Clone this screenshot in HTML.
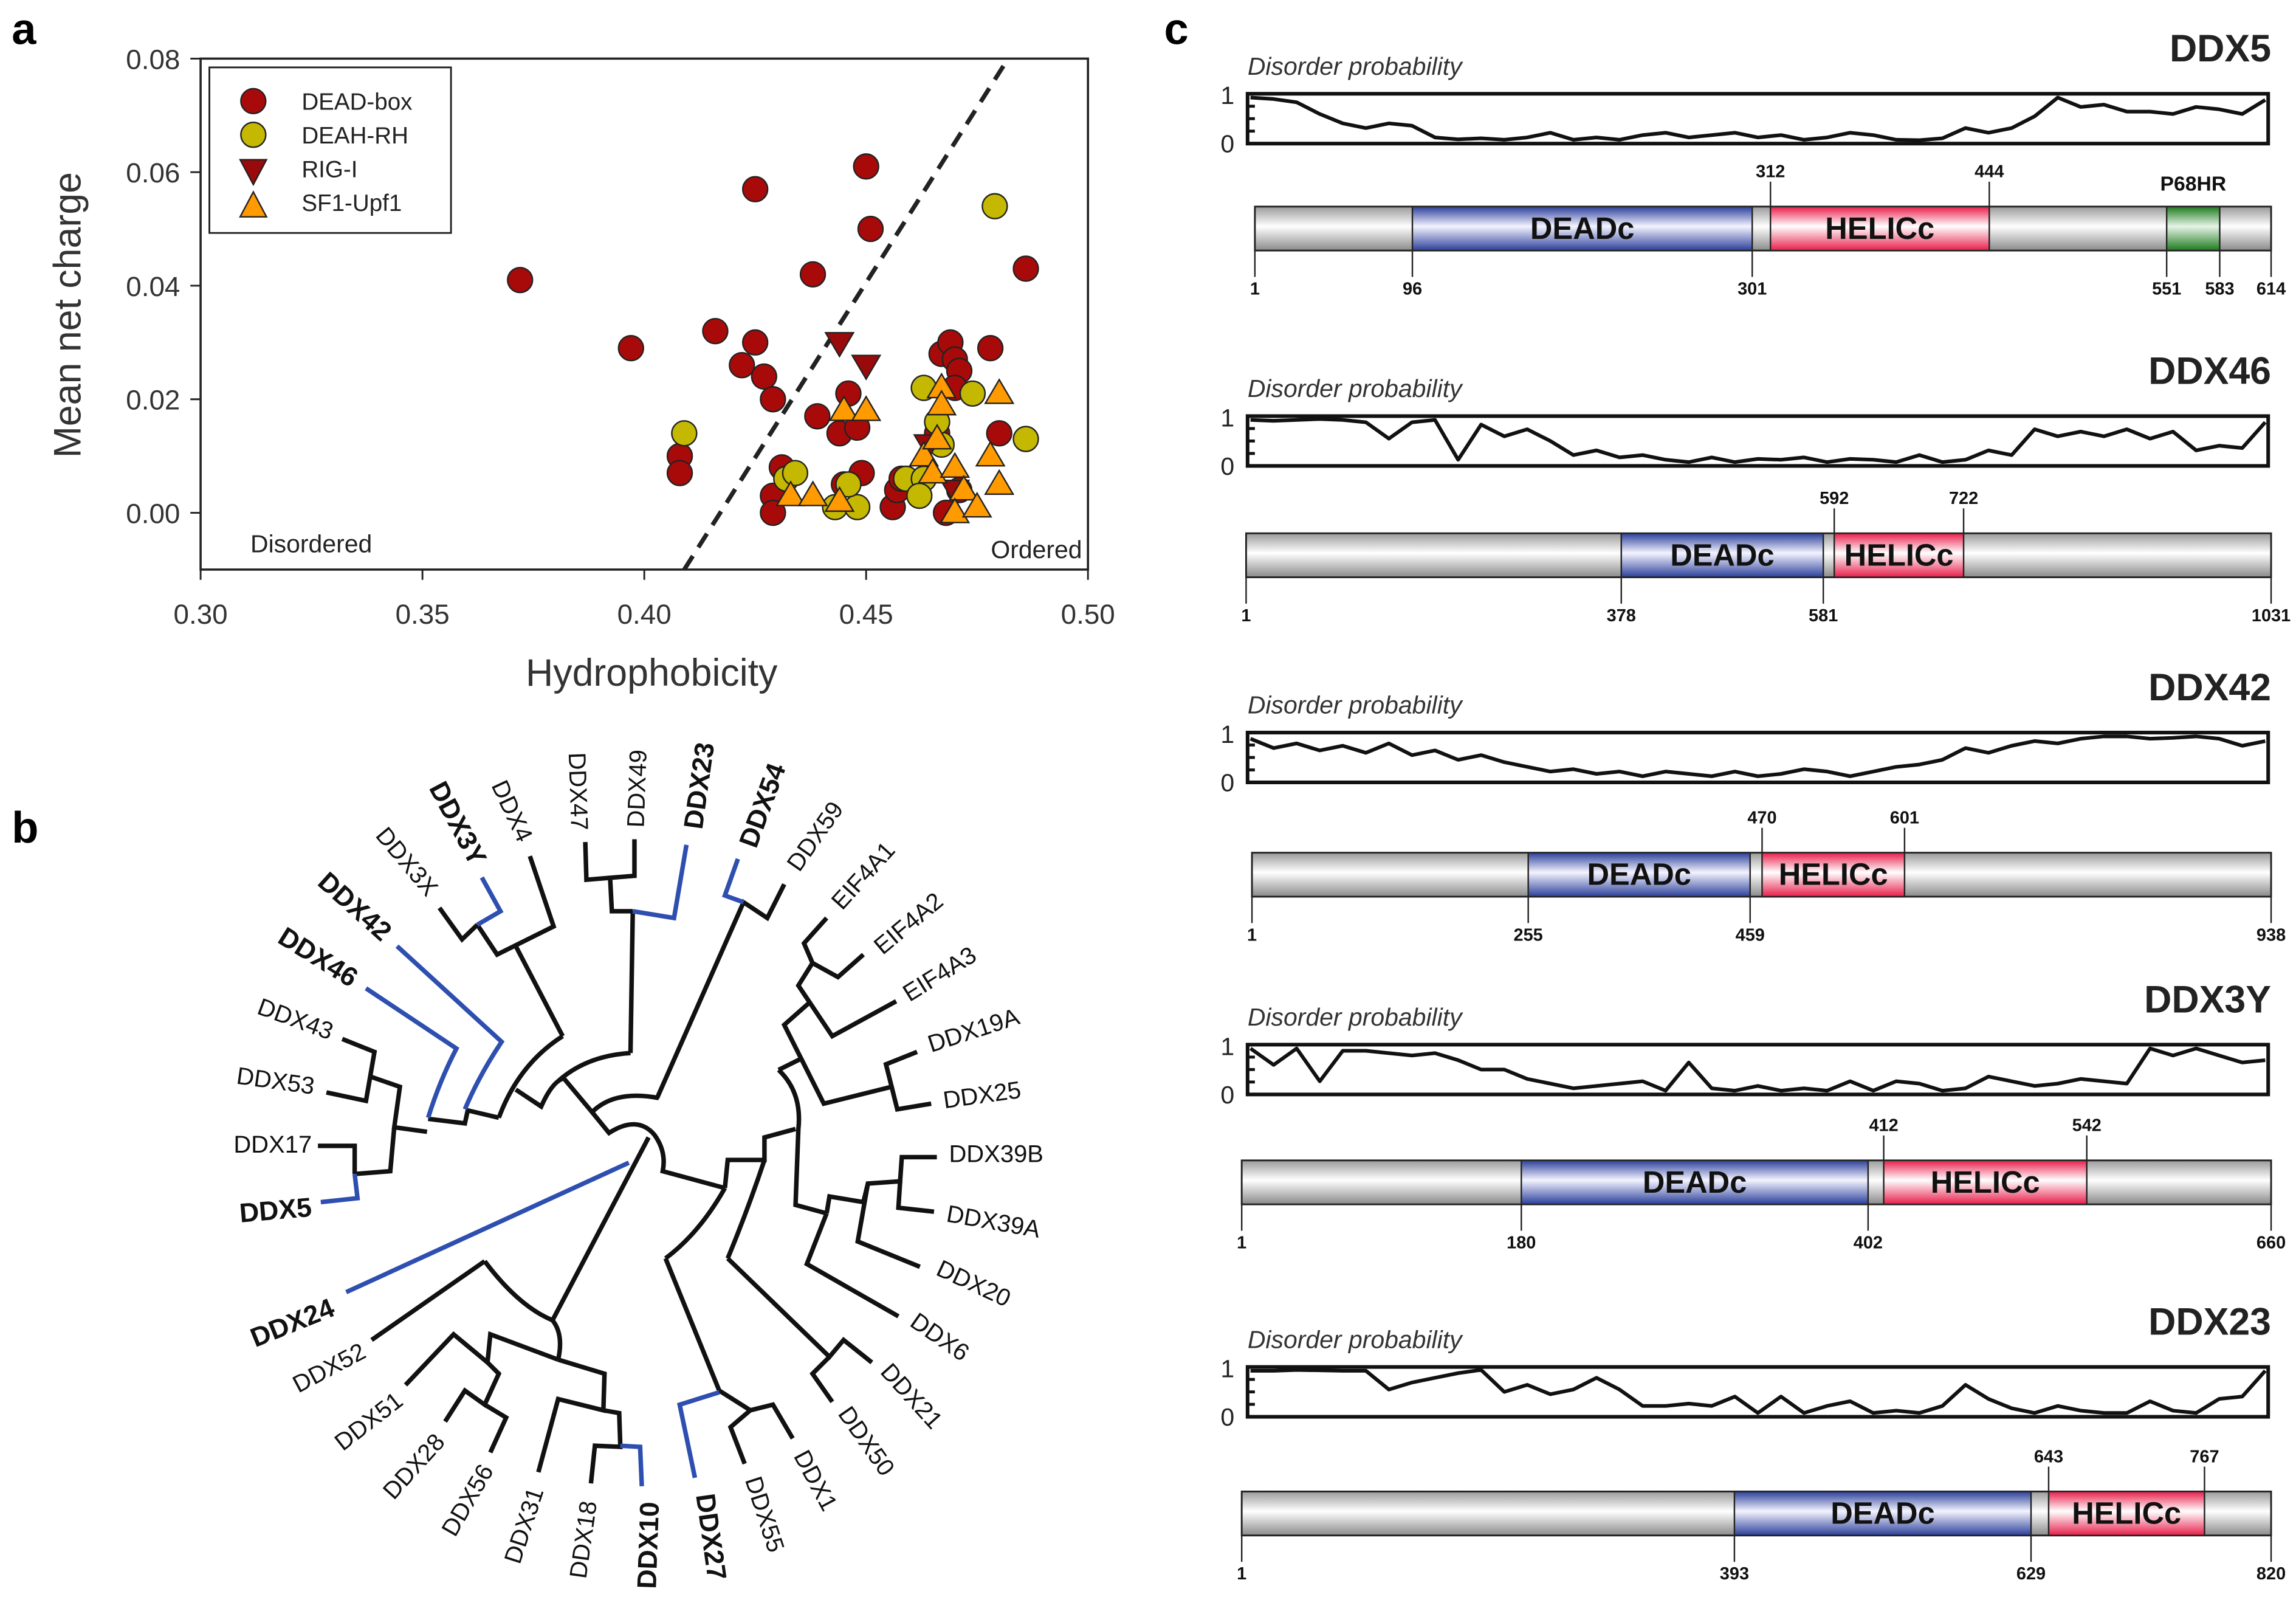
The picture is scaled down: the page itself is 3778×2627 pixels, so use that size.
<!DOCTYPE html>
<html><head><meta charset="utf-8"><style>
html,body{margin:0;padding:0;background:#fff;}
svg{display:block;font-family:"Liberation Sans",Arial,sans-serif;}
</style></head><body>
<svg id="fig" width="3778" height="2627" viewBox="0 0 1568 1090" preserveAspectRatio="none" xmlns="http://www.w3.org/2000/svg">
<defs>
<linearGradient id="gGray" x1="0" y1="0" x2="0" y2="1"><stop offset="0" stop-color="#9a9a9a"/><stop offset="0.45" stop-color="#ffffff"/><stop offset="1" stop-color="#8a8a8a"/></linearGradient>
<linearGradient id="gBlue" x1="0" y1="0" x2="0" y2="1"><stop offset="0" stop-color="#2b3f9a"/><stop offset="0.45" stop-color="#f4f4ff"/><stop offset="1" stop-color="#2b3f9a"/></linearGradient>
<linearGradient id="gRed" x1="0" y1="0" x2="0" y2="1"><stop offset="0" stop-color="#e81e4a"/><stop offset="0.45" stop-color="#ffffff"/><stop offset="1" stop-color="#e81e4a"/></linearGradient>
<linearGradient id="gGreen" x1="0" y1="0" x2="0" y2="1"><stop offset="0" stop-color="#1e7a1e"/><stop offset="0.45" stop-color="#e6f4e6"/><stop offset="1" stop-color="#1e7a1e"/></linearGradient>
</defs>
<text x="8" y="30" font-size="30" font-weight="bold">a</text>
<text x="8" y="575" font-size="30" font-weight="bold">b</text>
<text x="795" y="30" font-size="30" font-weight="bold">c</text>
<g id="scatter"></g>
<g id="tree" transform="translate(138,496) scale(0.386,0.384)"></g>
<g id="prot"></g>
</svg>
<script>
// ---------- Panel a data ----------
const xTicks = [0.30, 0.35, 0.40, 0.45, 0.50];
const yTicks = [0.00, 0.02, 0.04, 0.06, 0.08];
const deadX = [0.372,0.397,0.408,0.408,0.416,0.425,0.422,0.425,0.427,0.429,0.438,0.450,0.451,0.486,0.439,0.444,0.448,0.446,0.449,0.431,0.429,0.429,0.456,0.457,0.458,0.467,0.469,0.470,0.471,0.470,0.478,0.480,0.466,0.468,0.471,0.445];
const deadY = [0.041,0.029,0.010,0.007,0.032,0.057,0.026,0.030,0.024,0.020,0.042,0.061,0.050,0.043,0.017,0.014,0.015,0.021,0.007,0.008,0.003,0.000,0.001,0.004,0.006,0.028,0.030,0.027,0.025,0.022,0.029,0.014,0.014,0.000,0.004,0.005];
const deahX = [0.409,0.479,0.463,0.474,0.486,0.432,0.434,0.443,0.448,0.446,0.459,0.463,0.462,0.467,0.466];
const deahY = [0.014,0.054,0.022,0.021,0.013,0.006,0.007,0.001,0.001,0.005,0.006,0.006,0.003,0.012,0.016];
const rigX = [0.444,0.450,0.464,0.470];
const rigY = [0.030,0.026,0.012,0.004];
const sfX = [0.433,0.438,0.444,0.445,0.450,0.463,0.466,0.467,0.467,0.465,0.470,0.472,0.470,0.478,0.480,0.480,0.475];
const sfY = [0.003,0.003,0.002,0.018,0.018,0.010,0.013,0.022,0.019,0.007,0.008,0.004,0.000,0.010,0.021,0.005,0.001];
const divLineX = [0.409, 0.482];
const divLineY = [-0.010, 0.080];

// ---------- Panel c data ----------
const protNames = ["DDX5","DDX46","DDX42","DDX3Y","DDX23"];
const protLengths = [614,1031,938,660,820];
const deadStart = [96,378,255,180,393];
const deadEnd = [301,581,459,402,629];
const helStart = [312,592,470,412,643];
const helEnd = [444,722,601,542,767];
const dis5 = [0.95,0.92,0.85,0.6,0.4,0.3,0.4,0.35,0.1,0.06,0.08,0.05,0.1,0.2,0.05,0.1,0.05,0.15,0.2,0.1,0.15,0.2,0.1,0.15,0.05,0.1,0.2,0.15,0.05,0.04,0.08,0.3,0.2,0.3,0.55,0.95,0.75,0.8,0.65,0.65,0.6,0.75,0.7,0.6,0.9];
const dis46 = [0.95,0.93,0.95,0.97,0.95,0.9,0.55,0.9,0.95,0.1,0.85,0.6,0.75,0.5,0.2,0.3,0.15,0.2,0.1,0.05,0.15,0.05,0.12,0.1,0.15,0.05,0.12,0.1,0.05,0.2,0.05,0.1,0.3,0.2,0.75,0.6,0.7,0.6,0.75,0.55,0.7,0.3,0.4,0.35,0.9];
const dis42 = [0.9,0.7,0.8,0.65,0.75,0.6,0.8,0.55,0.65,0.45,0.55,0.4,0.3,0.2,0.25,0.15,0.2,0.1,0.2,0.15,0.1,0.2,0.1,0.15,0.25,0.2,0.1,0.2,0.3,0.35,0.45,0.7,0.6,0.75,0.85,0.8,0.9,0.95,0.95,0.9,0.92,0.95,0.9,0.75,0.85];
const dis3y = [0.95,0.6,0.95,0.25,0.9,0.9,0.85,0.8,0.85,0.7,0.5,0.5,0.3,0.2,0.1,0.15,0.2,0.25,0.05,0.65,0.1,0.05,0.15,0.05,0.1,0.05,0.25,0.05,0.25,0.2,0.05,0.1,0.35,0.25,0.15,0.2,0.3,0.25,0.2,0.95,0.8,0.95,0.8,0.65,0.7];
const dis23 = [0.95,0.95,0.97,0.96,0.95,0.95,0.55,0.7,0.8,0.9,0.97,0.5,0.65,0.45,0.55,0.8,0.55,0.2,0.2,0.25,0.2,0.4,0.05,0.4,0.05,0.2,0.3,0.05,0.1,0.05,0.2,0.65,0.35,0.15,0.05,0.2,0.1,0.05,0.05,0.3,0.1,0.05,0.35,0.4,0.95];

const NS = "http://www.w3.org/2000/svg";
function mk(parent, tag, attrs, text){
  const e = document.createElementNS(NS, tag);
  for (const k in attrs) e.setAttribute(k, attrs[k]);
  if (text !== undefined) e.textContent = text;
  parent.appendChild(e);
  return e;
}

// ---------- Scatter ----------
(function(){
  const g = document.getElementById('scatter');
  const X0=137, X1=743, Y0=350, Y1=40;
  const sx = v => X0 + (v-0.30)/(0.20)*(X1-X0);
  const sy = v => Y0 - v/0.08*(Y0-Y1);
  const yBottom = sy(-0.01);
  const frame = mk(g,'rect',{x:X0,y:Y1,width:X1-X0,height:yBottom-Y1,fill:'none',stroke:'#222','stroke-width':1.5});
  
  
  xTicks.forEach(t=>{
    const l = mk(g,'line',{x1:sx(t),x2:sx(t),y1:yBottom,y2:yBottom+7,stroke:'#222','stroke-width':1.2});
    
    
    const tx = mk(g,'text',{x:sx(t),y:yBottom+37,'font-size':19,'text-anchor':'middle',fill:'#333'},t.toFixed(2));
    
    
  });
  yTicks.forEach(t=>{
    const l = mk(g,'line',{x1:X0-7,x2:X0,y1:sy(t),y2:sy(t),stroke:'#222','stroke-width':1.2});
    
    
    const tx = mk(g,'text',{x:X0-14,y:sy(t)+7,'font-size':19,'text-anchor':'end',fill:'#333'},t.toFixed(2));
    
    
  });
  const xt = mk(g,'text',{x:445,y:468,'font-size':26,'text-anchor':'middle',fill:'#333'},'Hydrophobicity');
  
  
  const yt = mk(g,'text',{x:0,y:0,'font-size':26,'text-anchor':'middle',fill:'#333',transform:'translate(55,215) rotate(-90)'},'Mean net charge');
  
  
  const t1 = mk(g,'text',{x:171,y:377,'font-size':17,fill:'#222'},'Disordered');
  
  
  const t2 = mk(g,'text',{x:739,y:381,'font-size':17,fill:'#222','text-anchor':'end'},'Ordered');
  
  
  const dl = mk(g,'line',{x1:sx(divLineX[0]),y1:sy(divLineY[0]),x2:sx(divLineX[1]),y2:sy(divLineY[1]),stroke:'#222','stroke-width':3,'stroke-dasharray':'11,7'});
  
  
  function circle(x,y,fill,name){
    const c = mk(g,'circle',{cx:x,cy:y,r:8.5,fill:fill,stroke:'#222','stroke-width':1});
    
    
  }
  function tri(x,y,down,fill,name){
    const s=9.5;
    const p = down ? `${x-s},${y-s*0.7} ${x+s},${y-s*0.7} ${x},${y+s*1.0}` : `${x},${y-s*1.0} ${x+s},${y+s*0.7} ${x-s},${y+s*0.7}`;
    const t = mk(g,'polygon',{points:p,fill:fill,stroke:'#222','stroke-width':1});
    
    
  }
  deadX.forEach((v,i)=>circle(sx(v),sy(deadY[i]),'#a80a0a','dead-box-point'));
  deahX.forEach((v,i)=>circle(sx(v),sy(deahY[i]),'#c4b800','deah-rh-point'));
  rigX.forEach((v,i)=>tri(sx(v),sy(rigY[i]),true,'#9a0a0a','rig-i-point'));
  sfX.forEach((v,i)=>tri(sx(v),sy(sfY[i]),false,'#ff9a00','sf1-upf1-point'));
  const lg = mk(g,'g',{});
  
  
  mk(lg,'rect',{x:143,y:46,width:165,height:113,fill:'#fff',stroke:'#222','stroke-width':1.2});
  const labels=['DEAD-box','DEAH-RH','RIG-I','SF1-Upf1'];
  labels.forEach((lab,i)=>{
    const y=69+i*23;
    const e = mk(lg,'text',{x:206,y:y+6,'font-size':16,fill:'#222'},lab);
    
    
  });
  const c1=mk(lg,'circle',{cx:173,cy:69,r:8.5,fill:'#a80a0a',stroke:'#222'});  
  const c2=mk(lg,'circle',{cx:173,cy:92,r:8.5,fill:'#c4b800',stroke:'#222'});  
  const p1=mk(lg,'polygon',{points:'164,109 182,109 173,126',fill:'#9a0a0a',stroke:'#222'});  
  const p2=mk(lg,'polygon',{points:'173,131 182,148 164,148',fill:'#ff9a00',stroke:'#222'});  
})();

// ---------- Tree (drawn in local coordinates, group is scaled) ----------
(function(){
  const g = document.getElementById('tree');
  const black = [
    "M420,322 L460,378 L487,352","M487,352 L522,405 L622,355 L580,230","M555,390 L638,550","M525,695 Q560,600 638,550",
    "M400,697 L465,705 L470,682 L525,695",
    "M248,555 L305,578 L290,665 L220,650","M298,622 L350,640 L340,712 L398,720","M340,712 L333,790 L270,795","M205,745 L270,745 L270,795",
    "M678,205 L680,272 L765,265 L765,200","M722,270 L725,328 L762,328","M762,328 L758,580",
    "M555,645 L600,675 Q620,630 640,625","M630,630 Q680,585 758,580",
    "M640,625 L690,685 Q730,645 808,660","M690,685 L720,722 Q770,690 800,725 Q822,755 815,790 L925,820",
    "M1030,280 L1000,340 L958,312 L805,660",
    "M925,820 L930,770 L995,770 L995,730 L1050,715",
    "M1020,610 Q1062,650 1055,715 Q1052,790 1050,850 L1105,865",
    "M1020,610 L1060,590 L1030,530 L1075,490 L1055,460 L1080,420 L1065,385 L1105,340",
    "M1080,420 L1125,445 L1170,405","M1075,490 L1115,550 L1228,488","M1060,590 L1100,670 L1220,640 L1210,600 L1265,578","M1220,640 L1230,680 L1290,670",
    "M1105,865 L1110,835 L1170,845 L1178,812 L1235,808 L1238,765 L1300,765","M1235,808 L1232,855 L1295,862","M1178,812 L1160,915 L1270,960","M1105,865 L1070,955 L1232,1048",
    "M925,820 Q880,900 820,945","M995,770 Q965,860 930,945",
    "M930,945 L1110,1120 L1135,1090 L1185,1130","M1110,1120 L1080,1150 L1115,1200",
    "M820,945 L915,1180","M915,1180 L970,1215 L935,1245 L960,1310","M970,1215 L1010,1205 L1045,1265",
    "M790,730 L620,1055","M500,950 Q560,1030 620,1055","M500,950 L300,1090","M620,1055 Q640,1080 630,1125",
    "M630,1125 L510,1080 L505,1130 L445,1080 L360,1170","M505,1130 L525,1150 L500,1205 L465,1180 L430,1235","M500,1205 L538,1228 L510,1290",
    "M630,1125 L712,1150 L710,1215 L630,1195 L595,1325","M710,1215 L738,1220 L740,1280 L695,1278 L688,1345"
  ];
  black.forEach(d=>{
    const p = mk(g,'path',{d:d,fill:'none',stroke:'#111','stroke-width':8});
    
    
  });
  const blue = [
    "M487,352 L528,328 L495,268","M345,390 L530,560 Q490,620 465,680","M290,465 L450,572 Q420,630 400,695",
    "M270,795 L275,838 L210,845","M762,328 L835,340 L857,210","M948,235 L925,300 L958,312",
    "M755,775 L255,1005","M915,1183 L845,1205 L872,1335","M740,1278 L775,1280 L778,1350"
  ];
  blue.forEach(d=>{
    const p = mk(g,'path',{d:d,fill:'none',stroke:'#2e4fb0','stroke-width':8});
    
    
  });
  const leaves = [
    ["DDX3Y",452,172,62,1],["DDX4",548,150,65,0],["DDX3X",362,240,50,0],["DDX47",665,115,88,0],["DDX49",770,110,-88,0],
    ["DDX23",880,105,-82,1],["DDX54",992,140,-70,1],["DDX59",1085,195,-55,0],["EIF4A1",1170,265,-48,0],["EIF4A2",1250,350,-40,0],
    ["EIF4A3",1305,440,-32,0],["DDX19A",1365,540,-18,0],["DDX25",1380,655,-8,0],["DDX39B",1405,760,0,0],["DDX39A",1400,880,10,0],
    ["DDX20",1365,990,25,0],["DDX6",1305,1085,35,0],["DDX21",1255,1190,48,0],["DDX50",1175,1270,55,0],["DDX1",1085,1340,62,0],
    ["DDX55",995,1400,72,0],["DDX27",900,1440,82,1],["DDX10",790,1455,-88,1],["DDX18",675,1445,-82,0],["DDX31",570,1420,-72,0],
    ["DDX56",470,1375,-60,0],["DDX28",375,1315,-48,0],["DDX51",295,1235,-38,0],["DDX52",225,1140,-28,0],["DDX24",160,1060,-22,1],
    ["DDX5",130,860,-5,1],["DDX17",125,743,0,0],["DDX53",130,630,8,0],["DDX43",165,520,20,0],["DDX46",205,410,32,1],["DDX42",270,320,42,1]
  ];
  leaves.forEach(l=>{
    const t = mk(g,'text',{x:l[1],y:l[2],'font-size':l[4]?48:43,'font-weight':l[4]?'bold':'normal','text-anchor':'middle','dominant-baseline':'central',fill:'#111',transform:`rotate(${l[3]} ${l[1]} ${l[2]})`},l[0]);
    
    
  });
})();

// ---------- Protein panels ----------
(function(){
  const g = document.getElementById('prot');
  const disorder = [dis5,dis46,dis42,dis3y,dis23];
  const boxTop = [64,284,500,713,933];
  const barTop = [141,364,582,792,1018];
  const barX0 = [857,851,855,848,848];
  const barX1 = 1551;
  protNames.forEach((nm,i)=>{
    const pg = mk(g,'g',{});
    
    
    const bt = boxTop[i], bb = bt+34;
    const tt = mk(pg,'text',{x:852,y:bt-13,'font-size':17,'font-style':'italic',fill:'#333'},'Disorder probability');
    
    
    const nt = mk(pg,'text',{x:1551,y:bt-22,'font-size':26,'font-weight':'bold','text-anchor':'end',fill:'#222'},nm);
    
    
    const bx = mk(pg,'rect',{x:852,y:bt,width:697,height:34,fill:'none',stroke:'#111','stroke-width':2.5});
    
    
    [0,0.25,0.5,0.75,1].forEach(v=>{
      mk(pg,'line',{x1:852,x2:857,y1:bb-v*34,y2:bb-v*34,stroke:'#111','stroke-width':2});
    });
    const l1 = mk(pg,'text',{x:843,y:bt+7,'font-size':17,'text-anchor':'end',fill:'#222'},'1');
     
    const l0 = mk(pg,'text',{x:843,y:bb+6,'font-size':17,'text-anchor':'end',fill:'#222'},'0');
     
    const d = disorder[i];
    const pts = d.map((v,k)=>`${(854+k*(693/(d.length-1))).toFixed(1)},${(bb-1-v*32).toFixed(1)}`).join(' ');
    const pl = mk(pg,'polyline',{points:pts,fill:'none',stroke:'#111','stroke-width':2.5,'stroke-linejoin':'round'});
    
    
    const L = protLengths[i], x0 = barX0[i];
    const px = a => x0 + (a-1)/(L-1)*(barX1-x0);
    const yt = barTop[i], h = 30;
    const bar = mk(pg,'rect',{x:x0,y:yt,width:barX1-x0,height:h,fill:'url(#gGray)',stroke:'#222','stroke-width':1.2});
    
    
    const dd = mk(pg,'rect',{x:px(deadStart[i]),y:yt,width:px(deadEnd[i])-px(deadStart[i]),height:h,fill:'url(#gBlue)',stroke:'#222','stroke-width':1});
    
    
    const hd = mk(pg,'rect',{x:px(helStart[i]),y:yt,width:px(helEnd[i])-px(helStart[i]),height:h,fill:'url(#gRed)',stroke:'#222','stroke-width':1});
    
    
    const dt = mk(pg,'text',{x:(px(deadStart[i])+px(deadEnd[i]))/2,y:yt+22,'font-size':21,'font-weight':'bold','text-anchor':'middle',fill:'#111'},'DEADc');
     
    const ht = mk(pg,'text',{x:(px(helStart[i])+px(helEnd[i]))/2,y:yt+22,'font-size':21,'font-weight':'bold','text-anchor':'middle',fill:'#111'},'HELICc');
     
    const below = [1,deadStart[i],deadEnd[i],L];
    const above = [helStart[i],helEnd[i]];
    if (i===0){ below.push(551,583);
      const gd = mk(pg,'rect',{x:px(551),y:yt,width:px(583)-px(551),height:h,fill:'url(#gGreen)',stroke:'#222','stroke-width':1});
       
      const gt = mk(pg,'text',{x:(px(551)+px(583))/2,y:yt-11,'font-size':14,'font-weight':'bold','text-anchor':'middle',fill:'#111'},'P68HR');
       
    }
    below.forEach(a=>{
      mk(pg,'line',{x1:px(a),x2:px(a),y1:yt+h,y2:yt+h+18,stroke:'#222','stroke-width':1});
      const t = mk(pg,'text',{x:px(a),y:yt+h+30,'font-size':12,'font-weight':'bold','text-anchor':'middle',fill:'#111'},String(a));
       
    });
    above.forEach(a=>{
      mk(pg,'line',{x1:px(a),x2:px(a),y1:yt-17,y2:yt,stroke:'#222','stroke-width':1});
      const t = mk(pg,'text',{x:px(a),y:yt-20,'font-size':12,'font-weight':'bold','text-anchor':'middle',fill:'#111'},String(a));
       
    });
  });
})();
</script>
</body></html>
